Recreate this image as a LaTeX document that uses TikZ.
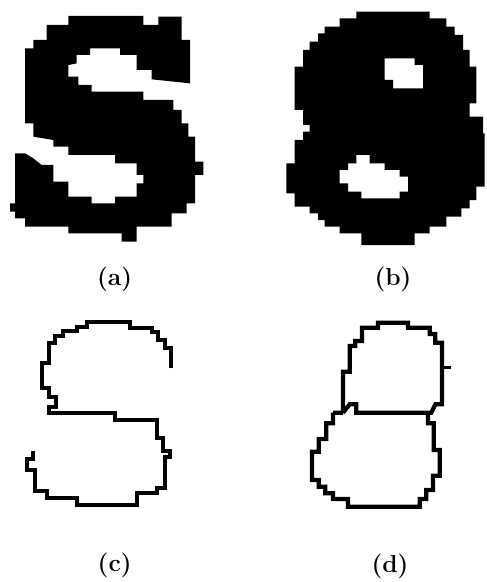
\documentclass[tikz,border=0pt]{standalone}
\usepackage{tikz}
\usetikzlibrary{positioning}

\begin{document}
\begin{tikzpicture}[
  x=0.01cm, y=-0.01cm,
  glyph/.style={fill=black, draw=none, even odd rule},
  contour/.style={draw=black, line width=3.6pt, line join=miter, line cap=butt},
  caption/.style={font=\fontsize{21}{24}\selectfont\bfseries, inner sep=0pt}
]
\useasboundingbox (0,0) rectangle (1458,1746);

% (a) filled S
\path[glyph] (205,48) -- (430,48) -- (430,75) -- (475,75) -- (475,50) -- (545,50) -- (545,120) -- (570,120) -- (570,250) -- (455,238) -- (455,210) -- (410,210) -- (410,165) -- (360,165) -- (360,145) -- (270,145) -- (270,165) -- (230,165) -- (230,190) -- (205,195) -- (205,230) -- (235,230) -- (235,255) -- (275,255) -- (275,275) -- (430,275) -- (430,300) -- (520,300) -- (520,330) -- (545,330) -- (545,370) -- (565,370) -- (565,410) -- (585,410) -- (585,485) -- (610,485) -- (610,525) -- (585,525) -- (585,610) -- (560,610) -- (560,640) -- (515,640) -- (515,680) -- (410,680) -- (410,725) -- (365,725) -- (365,700) -- (205,700) -- (205,680) -- (75,680) -- (75,655) -- (45,655) -- (45,635) -- (30,635) -- (30,610) -- (45,610) -- (45,460) -- (75,460) -- (100,475) -- (125,495) -- (160,495) -- (160,545) -- (205,545) -- (205,590) -- (275,590) -- (275,610) -- (345,610) -- (345,590) -- (410,590) -- (410,550) -- (430,550) -- (430,525) -- (410,525) -- (410,490) -- (345,490) -- (345,465) -- (205,465) -- (205,440) -- (160,440) -- (160,420) -- (100,410) -- (100,370) -- (75,370) -- (75,145) -- (100,145) -- (100,120) -- (140,120) -- (140,75) -- (205,75) -- cycle;

% (b) filled 8 with its two holes
\begin{scope}[shift={(729,0)}]
\path[glyph] (340,35) -- (560,35) -- (560,55) -- (610,55) -- (610,80) -- (635,80) -- (635,105) -- (660,105) -- (660,150) -- (680,150) -- (680,200) -- (700,200) -- (700,310) -- (680,310) -- (680,350) -- (720,350) -- (720,400) -- (725,400) -- (725,560) -- (700,560) -- (700,600) -- (680,600) -- (680,625) -- (655,625) -- (655,650) -- (610,650) -- (610,680) -- (560,680) -- (560,700) -- (515,700) -- (515,735) -- (355,735) -- (355,700) -- (290,700) -- (290,680) -- (245,680) -- (245,660) -- (225,660) -- (225,640) -- (200,640) -- (200,620) -- (155,620) -- (155,580) -- (130,580) -- (130,490) -- (155,490) -- (155,420) -- (180,420) -- (180,395) -- (200,395) -- (200,375) -- (180,375) -- (180,330) -- (155,330) -- (155,200) -- (180,200) -- (180,150) -- (200,150) -- (200,125) -- (225,125) -- (225,100) -- (245,100) -- (245,80) -- (290,80) -- (290,55) -- (340,55) -- cycle
  (425,175) -- (515,175) -- (515,195) -- (540,195) -- (540,265) -- (450,265) -- (450,240) -- (425,240) -- cycle
  (340,465) -- (380,465) -- (380,490) -- (425,490) -- (425,510) -- (470,510) -- (470,530) -- (495,530) -- (495,575) -- (470,575) -- (470,595) -- (355,595) -- (355,575) -- (315,575) -- (315,550) -- (290,550) -- (290,510) -- (315,510) -- (315,490) -- (340,490) -- cycle;
\end{scope}

% (c) contour of the S
\begin{scope}[shift={(0,780)}]
\draw[contour] (512,325) -- (512,265) -- (495,265) -- (495,240) -- (475,240) -- (475,215) -- (455,215) -- (455,203) -- (390,203) -- (390,185) -- (260,185) -- (260,200) -- (230,200) -- (230,213) -- (190,213) -- (190,228) -- (165,228) -- (165,248) -- (148,248) -- (148,310) -- (125,310) -- (125,385) -- (148,385) -- (148,412) -- (168,412) -- (168,442) -- (148,442) -- (148,458) -- (345,458) -- (345,480) -- (470,480) -- (470,535) -- (490,535) -- (490,572) -- (510,572) -- (510,590) -- (495,590) -- (495,683) -- (470,683) -- (470,700) -- (410,700) -- (410,735) -- (230,735) -- (230,715) -- (140,715) -- (140,693) -- (105,693) -- (105,630) -- (80,630) -- (80,597) -- (100,597) -- (100,572);
\end{scope}

% (d) contour of the 8
\begin{scope}[shift={(729,780)}]
\draw[contour] (300,458) -- (300,335) -- (320,335) -- (320,258) -- (337,258) -- (337,243) -- (357,243) -- (357,203) -- (405,203) -- (405,188) -- (495,188) -- (495,203) -- (560,203) -- (560,222) -- (577,222) -- (577,248) -- (597,248) -- (597,433) -- (577,433) -- (565,458) -- (340,458) -- (340,433) -- (320,433) -- (300,458)
  (270,458) -- (270,490) -- (250,490) -- (250,537) -- (227,537) -- (227,575) -- (207,575) -- (207,660) -- (227,660) -- (227,680) -- (247,680) -- (247,700) -- (270,700) -- (270,717) -- (315,717) -- (315,740) -- (530,740) -- (530,717) -- (550,717) -- (550,690) -- (570,690) -- (570,647) -- (590,647) -- (590,570) -- (572,570) -- (572,490) -- (555,490) -- (555,458)
  (300,458) -- (270,458);
\draw[contour, line width=2.5pt] (597,322) -- (625,322);
\end{scope}

\node[caption] (capa) at (344,837) {(a)};
\node[caption] (capb) at (1179,837) {(b)};
\node[caption] (capc) at (344,1697) {(c)};
\node[caption] (capd) at (1170,1700) {(d)};
\end{tikzpicture}
\end{document}
